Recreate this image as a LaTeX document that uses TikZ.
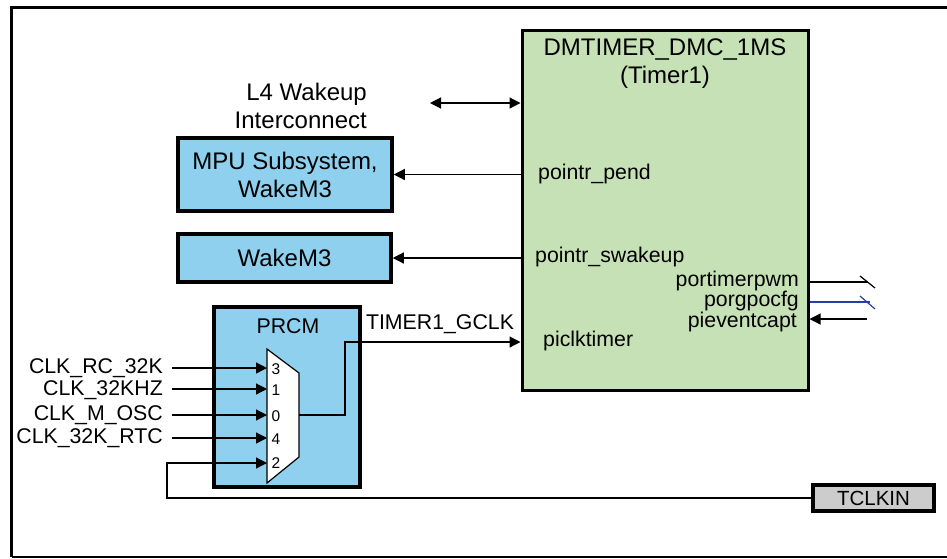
\documentclass[tikz,border=0pt]{standalone}
\usepackage{fontspec}
\setmainfont{Liberation Sans}
\usetikzlibrary{arrows.meta}
\definecolor{tgreen}{RGB}{198,225,181}
\definecolor{tblue}{RGB}{143,208,238}
\definecolor{tgray}{RGB}{204,204,204}
\definecolor{lblue}{RGB}{40,60,170}
\begin{document}
\begin{tikzpicture}[x=1pt,y=-1pt,
  big/.style={font=\fontsize{24}{28}\selectfont},
  med/.style={font=\fontsize{21.3}{25}\selectfont},
  tiny/.style={font=\fontsize{15.5}{17}\selectfont},
  blk/.style={draw, line width=3.5pt, fill=tblue, inner sep=0pt, align=center, big},
  conn/.style={line width=1.2pt},
  arr/.style={conn, -{Triangle[length=11pt,width=11pt]}},
  lbl/.style={inner sep=0pt, med},
]
\useasboundingbox (0,0) rectangle (947,558);
% frame
\draw[line width=3.5pt] (960,7.5) -- (11.5,7.5) -- (11.5,556.5);
\draw[line width=2pt] (11.5,556.5) -- (960,556.5);
% blocks
\node[draw, line width=3pt, fill=tgreen, minimum width=286pt, minimum height=360pt, inner sep=0pt] (tmr) at (665,210) {};
\node[big, align=center, inner sep=0pt] (ttl) at (665,64) {DMTIMER\_DMC\_1MS\\(Timer1)};
\node[blk, minimum width=214pt, minimum height=73pt] (mpu) at (285,174.5) {MPU Subsystem,\\WakeM3};
\node[blk, minimum width=213pt, minimum height=48pt] (wk) at (284.5,258) {WakeM3};
\node[blk, minimum width=146pt, minimum height=180pt] (prcm) at (287,397) {};
\node[lbl] (prcmt) at (288,326) {PRCM};
\node[draw, line width=3.5pt, fill=tgray, minimum width=121pt, minimum height=26pt, inner sep=0pt, font=\fontsize{20.5}{24}\selectfont] (tclk) at (873.5,498) {TCLKIN};
% L4
\node[big, align=right, inner sep=0pt, anchor=east] (l4t) at (367,106) {L4 Wakeup\\Interconnect};
\coordinate (l4) at (430,103);
\draw[conn, {Triangle[length=11pt,width=11pt]}-{Triangle[length=11pt,width=11pt]}] (l4) -- (tmr.west |- l4);
% interrupts
\draw[arr] (tmr.west |- mpu.east) -- (mpu.east);
\draw[arr] (tmr.west |- wk.east) -- (wk.east);
\node[lbl, anchor=west] (pp) at (538,174) {pointr\_pend};
\node[lbl, anchor=west] (ps) at (535,257) {pointr\_swakeup};
\node[lbl, anchor=west] (pc) at (543,341) {piclktimer};
\node[lbl, anchor=east] (pw) at (799,281) {portimerpwm};
\node[lbl, anchor=east] (pg) at (799,301) {porgpocfg};
\node[lbl, anchor=east] (pe) at (797,322) {pieventcapt};
% right side outputs
\coordinate (o1) at (868,282);
\coordinate (o2) at (870,302);
\coordinate (o3) at (867,319);
\draw[conn] (tmr.east |- o1) -- (o1);
\draw[conn] (860,276) -- (875,288);
\draw[conn, lblue] (tmr.east |- o2) -- (o2);
\draw[conn, lblue] (860,296) -- (875,309);
\draw[arr] (o3) -- (tmr.east |- o3);
% mux
\draw[line width=1.2pt, fill=white] (267,349) -- (299,373) -- (299,457) -- (267,483) -- cycle;
\coordinate (i3) at (267,368);
\coordinate (i1) at (267,389);
\coordinate (i0) at (267,415);
\coordinate (i4) at (267,438);
\coordinate (i2) at (267,463);
\coordinate (mo) at (299,415);
\node[tiny, inner sep=0pt] (n3) at (276,369) {3};
\node[tiny, inner sep=0pt] (n1) at (276,390) {1};
\node[tiny, inner sep=0pt] (n0) at (276,416) {0};
\node[tiny, inner sep=0pt] (n4) at (276,439) {4};
\node[tiny, inner sep=0pt] (n2) at (276,463) {2};
\node[lbl, anchor=east] (c3) at (163,368) {CLK\_RC\_32K};
\node[lbl, anchor=east] (c1) at (163,390) {CLK\_32KHZ};
\node[lbl, anchor=east] (c0) at (163,415) {CLK\_M\_OSC};
\node[lbl, anchor=east] (c4) at (163,438) {CLK\_32K\_RTC};
\draw[arr] ([xshift=9pt]c3.east |- i3) -- (i3);
\draw[arr] ([xshift=9pt]c1.east |- i1) -- (i1);
\draw[arr] ([xshift=9pt]c0.east |- i0) -- (i0);
\draw[arr] ([xshift=9pt]c4.east |- i4) -- (i4);
\coordinate (tb) at (167,463);
\draw[arr] (tclk.west) -| (tb) -- (i2);
% clock output
\coordinate (gk) at (345,342);
\draw[arr] (mo) -| (gk) -- (tmr.west |- gk);
\node[lbl] (gl) at (440,324) {TIMER1\_GCLK};
\end{tikzpicture}
\end{document}
